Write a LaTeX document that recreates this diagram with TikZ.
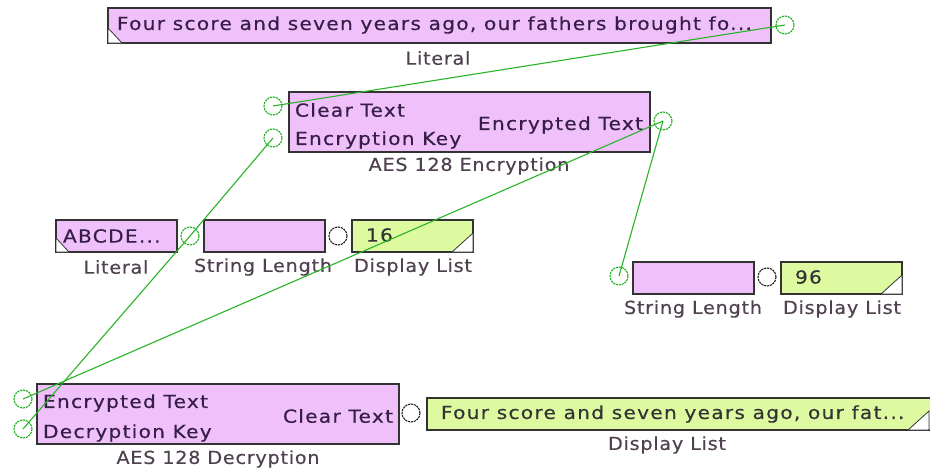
\documentclass[tikz,border=0pt]{standalone}
\usepackage{fontspec}
\setmainfont{DejaVu Sans}
\newfontfamily\boxfont[LetterSpace=7,FakeStretch=1.12,FakeBold=0.4]{DejaVu Sans}
\newfontfamily\lblfont[LetterSpace=4,FakeStretch=1.07,FakeBold=0.3]{DejaVu Sans}
\begin{document}
\begin{tikzpicture}[x=1pt,y=-1pt,
  every node/.style={inner sep=0pt,outer sep=0pt},
  txt/.style={font=\boxfont\fontsize{18}{20}\selectfont,text=txtpurple},
  gtxt/.style={font=\boxfont\fontsize{18}{20}\selectfont,text=black!80},
  lbl/.style={font=\lblfont\fontsize{18}{20}\selectfont,text=lblgray},
  pinkbox/.style={draw=black!80,line width=1.1pt,fill=boxpink,anchor=north west},
  greenbox/.style={draw=black!80,line width=1.1pt,fill=boxgreen,anchor=north west},
  gport/.style={circle,draw=wiregreen,dash pattern=on 2.2pt off 0.8pt,line width=1.1pt,minimum size=18pt},
  kport/.style={circle,draw=black!85,dash pattern=on 2.2pt off 0.8pt,line width=1.1pt,minimum size=18pt},
  wire/.style={draw=wiregreen,line width=1.1pt},
  tri/.style={fill=white,draw=black!80,line width=0.8pt}]
\definecolor{boxpink}{RGB}{240,192,250}
\definecolor{boxgreen}{RGB}{222,250,160}
\definecolor{wiregreen}{RGB}{40,180,40}
\definecolor{txtpurple}{RGB}{55,30,70}
\definecolor{lblgray}{RGB}{80,65,80}
\useasboundingbox (0,0) rectangle (930,474);
\fill[white] (0,0) rectangle (930,474);

% top literal
\node[pinkbox,minimum width=663pt,minimum height=35pt] (lit1) at (108,8) {};
\draw[tri] (lit1.south west) -- ++(0,-15) -- ++(14,15) -- cycle;
\node[txt,anchor=west] (lit1t) at (117,25) {Four score and seven years ago, our fathers brought fo...};
\node[lbl] (lit1l) at (438,58) {Literal};
\node[gport] (lit1o) at (785,25) {};

% AES encryption
\node[pinkbox,minimum width=361pt,minimum height=60pt] (enc) at (289,92) {};
\node[txt,anchor=west] (enct1) at (295,110) {Clear Text};
\node[txt,anchor=west] (enct2) at (295,140) {Encryption Key};
\node[txt,anchor=east] (enct3) at (643,125) {Encrypted Text};
\node[lbl] (encl) at (469,166) {AES 128 Encryption};
\node[gport] (enci1) at (273,106) {};
\node[gport] (enci2) at (273,138) {};
\node[gport] (enco) at (663,121) {};

% small literal, string length, display
\node[pinkbox,minimum width=121pt,minimum height=32pt] (lit2) at (56,220) {};
\draw[tri] (lit2.south west) -- ++(0,-14) -- ++(13,14) -- cycle;
\node[txt,anchor=west] (lit2t) at (63,236) {ABCDE...};
\node[lbl] (lit2l) at (116,267) {Literal};
\node[gport] (lit2o) at (190,236) {};
\node[pinkbox,minimum width=121pt,minimum height=32pt] (sl1) at (204,220) {};
\node[lbl] (sl1l) at (263,267) {String Length};
\node[kport] (sl1o) at (338,236) {};
\node[greenbox,minimum width=121pt,minimum height=32pt] (dl1) at (352,220) {};
\draw[tri] (dl1.south east) -- ++(0,-19) -- ++(-21,19) -- cycle;
\node[gtxt,anchor=west] (dl1t) at (366,235) {16};
\node[lbl] (dl1l) at (413,267) {Display List};

% string length 2 and display
\node[pinkbox,minimum width=121pt,minimum height=32pt] (sl2) at (633,262) {};
\node[lbl] (sl2l) at (693,309) {String Length};
\node[gport] (sl2i) at (619,276) {};
\node[kport] (sl2o) at (767,277) {};
\node[greenbox,minimum width=121pt,minimum height=32pt] (dl2) at (781,262) {};
\draw[tri] (dl2.south east) -- ++(0,-19) -- ++(-21,19) -- cycle;
\node[gtxt,anchor=west] (dl2t) at (795,277) {96};
\node[lbl] (dl2l) at (842,309) {Display List};

% AES decryption
\node[pinkbox,minimum width=362pt,minimum height=60pt] (dec) at (37,384) {};
\node[txt,anchor=west] (dect1) at (43,403) {Encrypted Text};
\node[txt,anchor=west] (dect2) at (43,433) {Decryption Key};
\node[txt,anchor=east] (dect3) at (393,416) {Clear Text};
\node[lbl] (decl) at (218,459) {AES 128 Decryption};
\node[gport] (deci1) at (23,399) {};
\node[gport] (deci2) at (23,429) {};
\node[kport] (deco) at (411,413) {};

% big display list
\node[greenbox,minimum width=510pt,minimum height=32pt] (dl3) at (427,398) {};
\draw[tri] (dl3.south east) ++(-8,0) -- ++(0,-19) -- ++(-21,19) -- cycle;
\node[gtxt,anchor=west] (dl3t) at (441,414) {Four score and seven years ago, our fat...};
\node[lbl] (dl3l) at (667,445) {Display List};

% wires
\draw[wire] (lit1o.center) -- (enci1.center);
\draw[wire] (enco.center) -- (sl2i.center);
\draw[wire] (enco.center) -- (deci1.center);
\draw[wire] (lit2o.center) -- (enci2.center);
\draw[wire] (lit2o.center) -- (deci2.center);
\end{tikzpicture}
\end{document}
